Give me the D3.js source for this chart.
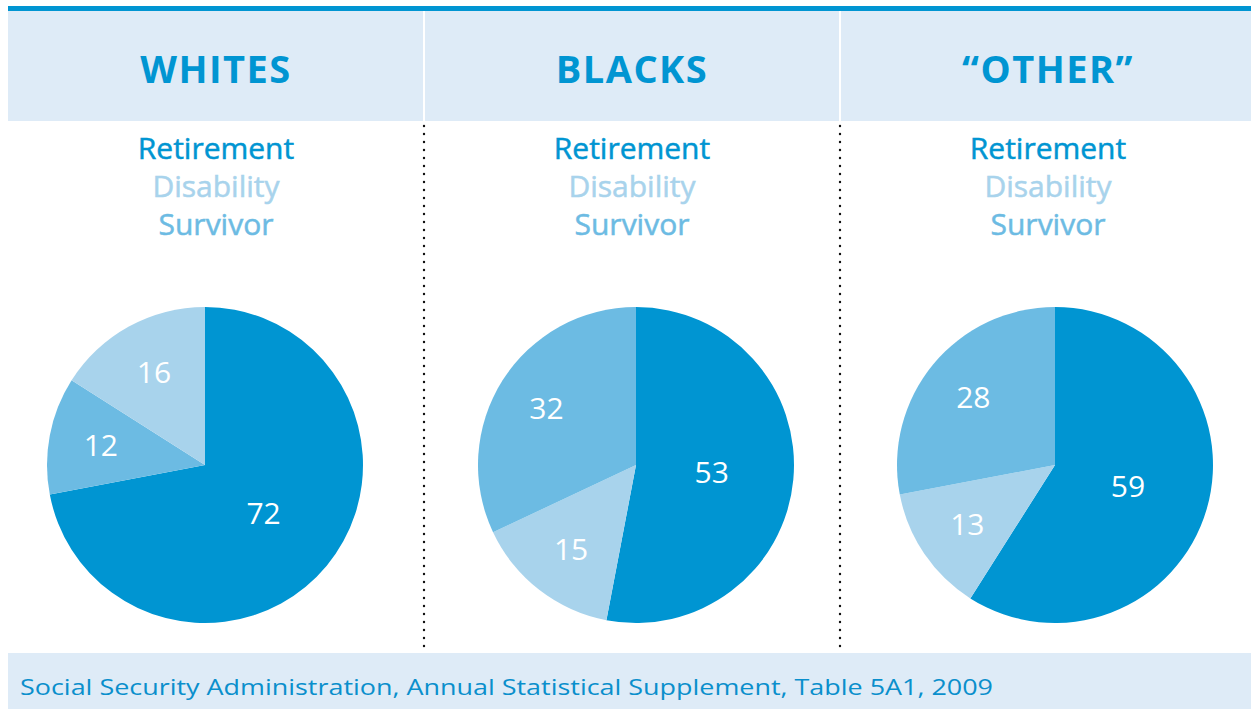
<!DOCTYPE html>
<html>
<head>
<meta charset="utf-8">
<script src="https://cdn.jsdelivr.net/npm/d3@7"></script>
<style>
  body { margin: 0; background: #fff; }
  svg { display: block; font-family: "Open Sans", "Noto Sans", sans-serif; }
</style>
</head>
<body>
<div id="content"></div>
<script>
// Chart size
const width = 1251;
const height = 709;

// Data
const groups = ["WHITES", "BLACKS", "\u201COTHER\u201D"];
const categories = ["Retirement", "Disability", "Survivor"];
const retirement = [72, 53, 59];
const disability = [16, 15, 13];
const survivor = [12, 32, 28];
// slice order (clockwise from 12 o'clock) as drawn in each pie
const sliceOrder = [
  ["Retirement", "Survivor", "Disability"],
  ["Retirement", "Disability", "Survivor"],
  ["Retirement", "Disability", "Survivor"]
];
const source = "Social Security Administration, Annual Statistical Supplement, Table 5A1, 2009";

const colors = d3.scaleOrdinal()
  .domain(categories)
  .range(["#0095d2", "#a8d3ec", "#6cbbe3"]);

const blue = "#0095d2";
const panelBg = "#deebf7";

const svg = d3.select("#content")
  .append("svg")
  .attr("width", width)
  .attr("height", height);

// Column layout
const x = d3.scaleBand()
  .domain(groups)
  .range([8, 1256]);

// Top rule and header band
svg.append("rect")
  .attr("x", 8).attr("y", 6)
  .attr("width", width - 8).attr("height", 5)
  .attr("fill", blue);

svg.append("rect")
  .attr("x", 8).attr("y", 11)
  .attr("width", width - 8).attr("height", 110)
  .attr("fill", panelBg);

// Footer band
svg.append("rect")
  .attr("x", 8).attr("y", 653)
  .attr("width", width - 8).attr("height", 56)
  .attr("fill", panelBg);

svg.append("text")
  .attr("x", 20).attr("y", 695)
  .attr("fill", "#0a8fcc")
  .attr("font-size", 22)
  .attr("textLength", 973)
  .attr("lengthAdjust", "spacingAndGlyphs")
  .text(source);

// Separators: white in header, dotted below
groups.slice(1).forEach(g => {
  const sx = x(g);
  svg.append("rect")
    .attr("x", sx - 1).attr("y", 11)
    .attr("width", 2).attr("height", 110)
    .attr("fill", "#fff");
  svg.append("line")
    .attr("x1", sx).attr("x2", sx)
    .attr("y1", 126).attr("y2", 652)
    .attr("stroke", "#111")
    .attr("stroke-width", 2.4)
    .attr("stroke-linecap", "round")
    .attr("stroke-dasharray", "0,8");
});

const pie = d3.pie().sort(null).value(d => d.value);
const radius = 158;
const arc = d3.arc().innerRadius(0).outerRadius(radius);
const pieShift = [-11, 4, 7];

groups.forEach((g, i) => {
  const cx = x(g) + x.bandwidth() / 2;
  const panel = svg.append("g");

  // Header
  panel.append("text")
    .attr("x", cx).attr("y", 83)
    .attr("text-anchor", "middle")
    .attr("fill", blue)
    .attr("font-size", 38)
    .attr("font-weight", 700)
    .attr("letter-spacing", 1.5)
    .text(g);

  // Legend
  panel.selectAll("text.legend")
    .data(categories)
    .join("text")
    .attr("class", "legend")
    .attr("x", cx)
    .attr("y", (d, j) => 159 + j * 38)
    .attr("text-anchor", "middle")
    .attr("fill", d => colors(d))
    .attr("font-size", 30)
    .attr("font-weight", 500)
    .attr("stroke", d => colors(d))
    .attr("stroke-width", 0.5)
    .text(d => d);

  // Pie
  const vals = { Retirement: retirement[i], Disability: disability[i], Survivor: survivor[i] };
  const slices = sliceOrder[i].map(c => ({ category: c, value: vals[c] }));
  const arcs = pie(slices);

  const pg = panel.append("g")
    .attr("transform", `translate(${cx + pieShift[i]},465)`);

  pg.selectAll("path")
    .data(arcs)
    .join("path")
    .attr("d", arc)
    .attr("fill", d => colors(d.data.category));

  pg.selectAll("text")
    .data(arcs)
    .join("text")
    .attr("transform", d => {
      const lr = d.data.category === "Retirement" ? 76 : 106;
      const c = d3.arc().innerRadius(lr).outerRadius(lr).centroid(d);
      return `translate(${c})`;
    })
    .attr("text-anchor", "middle")
    .attr("dy", "0.36em")
    .attr("fill", "#fff")
    .attr("font-size", 30)
    .text(d => d.data.value);
});
</script>
</body>
</html>
